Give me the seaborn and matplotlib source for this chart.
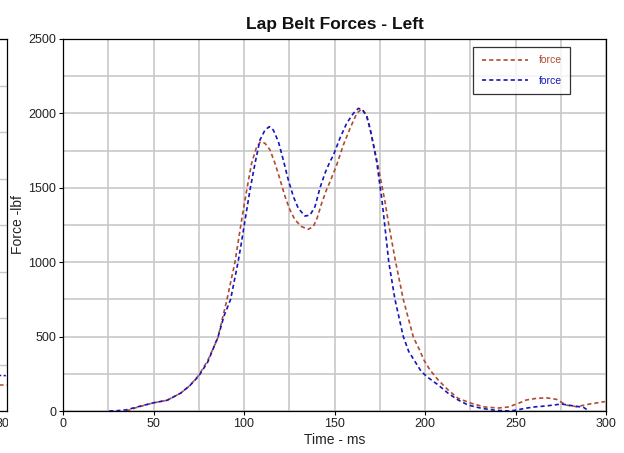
import numpy as np
import pandas as pd
import matplotlib
matplotlib.use("Agg")
import matplotlib.pyplot as plt
from matplotlib.transforms import Bbox, TransformedBbox
import seaborn as sns

sns.set_theme(style="white")
plt.rcParams["font.family"] = ["Liberation Sans", "DejaVu Sans"]

# Lap belt load, left side (time in ms, force in lbf)
time_red = [35, 41, 50, 57.5, 65, 70, 75, 80, 85.5, 90.6,
            95, 98.7, 101.5, 104.2, 107, 109.2, 111.6, 114.4, 117.1, 120,
            122.7, 125.4, 128.2, 131.9, 135.5, 138.3, 140.5, 143, 145.7, 147.5,
            151.2, 154.9, 158.6, 162.3, 165, 167.8, 170, 172.4, 174.3, 176.1,
            177.9, 180, 183.8, 188, 193.6, 197, 199.5, 202.8, 207.3, 212.8,
            218.3, 225.7, 233, 240.4, 246, 251.5, 256, 261, 267, 272.7,
            278, 283.8, 291, 299.4]
force_red = [0, 25, 55, 72, 120, 170, 240, 340, 490, 750,
             1000, 1284, 1485, 1665, 1776, 1810, 1799, 1754, 1665, 1552,
             1440, 1351, 1284, 1239, 1221, 1239, 1300, 1400, 1490, 1540,
             1653, 1788, 1900, 2000, 2030, 1989, 1877, 1743, 1631, 1519,
             1407, 1250, 1000, 750, 495, 410, 340, 275, 208, 141,
             85, 51, 27, 20, 27, 51, 74, 84, 89, 78,
             40, 29, 47, 63]

time_blue = [25.5, 30, 35, 41, 50, 57.5, 65, 70, 75, 80,
             85.7, 89, 92.6, 96.7, 98.2, 100.6, 103.3, 106.1, 108.8, 111.6,
             114, 116.2, 119, 121.7, 124.5, 127.3, 130, 133.7, 136.5, 139.2,
             142, 144.8, 147.1, 149.4, 153, 156.7, 160.4, 163.2, 165.6, 167.8,
             169.6, 171.5, 173.3, 174.8, 176.1, 177.3, 180, 183.4, 188, 191,
             194.5, 198, 201.8, 207.3, 212.8, 218.3, 223.8, 231.2, 238.6, 246,
             250, 255.2, 261, 267, 275.5, 282, 287.5, 290]
force_blue = [0, 2, 8, 27, 55, 72, 120, 170, 235, 330,
              500, 640, 750, 1000, 1104, 1284, 1485, 1665, 1821, 1888,
              1911, 1888, 1810, 1687, 1552, 1440, 1362, 1310, 1317, 1373,
              1500, 1600, 1665, 1720, 1833, 1933, 2000, 2034, 2023, 1978,
              1900, 1788, 1676, 1541, 1429, 1300, 1000, 750, 500, 400,
              332, 264, 224, 175, 119, 74, 40, 18, 5, 0,
              5, 18, 28, 34, 47, 34, 25, 5]

# Right-hand edge of the neighbouring panel
frag_time = [292, 300]
frag_red = [280, 280]
frag_blue = [390, 380]

x_ticks = [0, 50, 100, 150, 200, 250, 300]
y_ticks = [0, 500, 1000, 1500, 2000, 2500]

red = "#b04a32"
blue = "#1515c0"
grid_col = "#c8c8c8"

W, H = 624, 453
fig = plt.figure(figsize=(W / 100, H / 100), dpi=100)
fig.patch.set_facecolor("white")

# ---- neighbouring panel sliver on the far left ----
ax0 = fig.add_axes([(6.5 - 200) / W, 1 - 411 / H, 200 / W, 372 / H])
sns.lineplot(x=frag_time, y=frag_red, ax=ax0, color=red, lw=1.1,
             linestyle=(0, (3, 2)))
sns.lineplot(x=frag_time, y=frag_blue, ax=ax0, color=blue, lw=1.1,
             linestyle=(0, (1.5, 1.5)))
ax0.set_xlim(250, 300)
ax0.set_ylim(0, 4000)
ax0.set_yticks(np.arange(0, 4001, 500))
ax0.set_yticklabels([])
ax0.set_xticks([300])
ax0.set_xticklabels(["300"], fontsize=9, color="#222222")
ax0.grid(True, axis="y", color=grid_col, lw=1.0)
ax0.tick_params(axis="x", length=3, width=0.8, color="black", pad=2)
ax0.tick_params(axis="y", length=0)
for s in ax0.spines.values():
    s.set_color("black")
    s.set_linewidth(0.9)
clip = TransformedBbox(Bbox([[0, 0], [7.5 / W, 1]]), fig.transFigure)
for lab in ax0.get_xticklabels():
    lab.set_clip_on(True)
    lab.set_clip_box(clip)

# ---- main panel ----
ax = fig.add_axes([63 / W, 1 - 411 / H, (606 - 63) / W, 372 / H])
df_red = pd.DataFrame({"Time": time_red, "Force": force_red})
df_blue = pd.DataFrame({"Time": time_blue, "Force": force_blue})
sns.lineplot(data=df_red, x="Time", y="Force", ax=ax, color=red, lw=1.2,
             linestyle=(0, (2.5, 1.8)), label="force")
sns.lineplot(data=df_blue, x="Time", y="Force", ax=ax, color=blue, lw=1.2,
             linestyle=(0, (2.5, 1.8)), label="force")

ax.set_xlim(0, 300)
ax.set_ylim(0, 2500)
ax.set_xticks(x_ticks)
ax.set_yticks(y_ticks)
ax.set_xticks(np.arange(0, 301, 25), minor=True)
ax.set_yticks(np.arange(0, 2501, 250), minor=True)
ax.grid(True, which="both", color=grid_col, lw=1.2)
ax.set_axisbelow(True)
ax.tick_params(axis="both", which="major", labelsize=9, length=3, width=0.8,
               color="black", labelcolor="#222222", pad=2)
ax.tick_params(axis="both", which="minor", length=0)
ax.tick_params(axis="x", bottom=True)
ax.tick_params(axis="y", left=True)
for s in ax.spines.values():
    s.set_color("black")
    s.set_linewidth(0.9)

ax.set_xlabel("Time - ms", fontsize=10, color="#222222", labelpad=2)
ax.set_ylabel("Force -lbf", fontsize=10, color="#222222", labelpad=2)
ax.set_title("Lap Belt Forces - Left", fontsize=12.5, fontweight="bold",
             color="#111111", pad=7)

leg = ax.legend(loc="upper right", bbox_to_anchor=(0.94, 0.987), fontsize=7.5,
                frameon=True, fancybox=False, edgecolor="black",
                labelcolor="linecolor", handlelength=4.5, handletextpad=1.0,
                borderpad=0.8, labelspacing=1.0, borderaxespad=0.3)
leg.get_frame().set_linewidth(0.9)

fig.savefig("out.png", dpi=100, facecolor="white")
